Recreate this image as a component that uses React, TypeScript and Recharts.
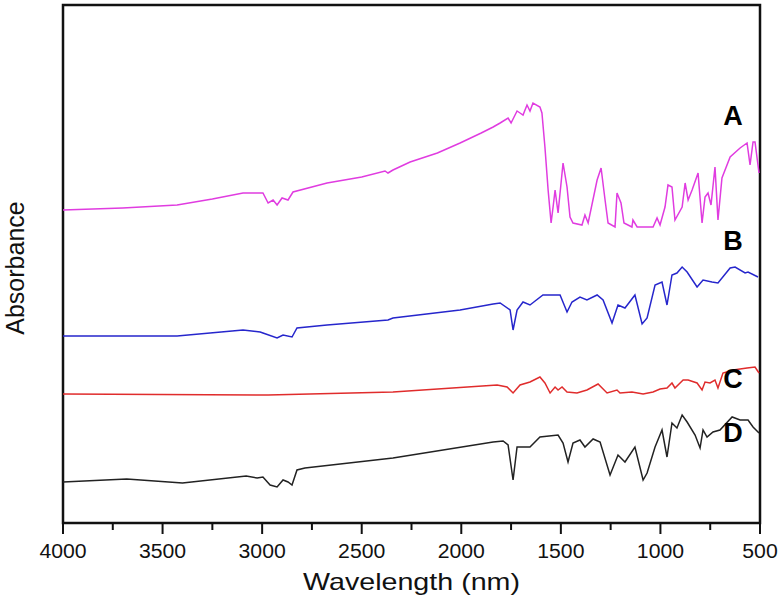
import { LineChart, Line, XAxis, YAxis, ReferenceDot, ReferenceArea } from 'recharts'

// wavenumber (x) and absorbance (arbitrary units)
const seriesA: [number, number][] = [
  [4000, 313], [3700, 315], [3427, 318], [3250, 324], [3096, 330], [2996, 330], [2970, 320],
  [2945, 323], [2925, 318], [2900, 325], [2870, 323], [2845, 331], [2674, 340],
  [2500, 346], [2383, 352], [2368, 350], [2343, 353], [2257, 361], [2120, 370],
  [2006, 380], [1900, 390], [1840, 396], [1805, 400], [1765, 405], [1750, 400],
  [1720, 412], [1705, 410], [1690, 408], [1670, 418], [1655, 412], [1640, 420],
  [1605, 416], [1595, 410], [1580, 376], [1564, 333], [1549, 300], [1539, 316],
  [1529, 333], [1514, 310], [1489, 360], [1469, 336], [1454, 306], [1439, 300],
  [1394, 298], [1379, 308], [1363, 300], [1318, 343], [1298, 355], [1278, 323],
  [1263, 300], [1228, 296], [1218, 330], [1198, 320], [1183, 300], [1143, 296],
  [1138, 303], [1117, 296], [1037, 296], [1017, 305], [1002, 298], [977, 316],
  [962, 338], [942, 336], [927, 303], [891, 316], [876, 340], [861, 323],
  [841, 333], [811, 350], [791, 300], [776, 326], [761, 330], [746, 318],
  [726, 356], [711, 303], [691, 345], [650, 366], [600, 375], [565, 380],
  [550, 358], [535, 381], [525, 381], [505, 350],
]

const seriesB: [number, number][] = [
  [4000, 187], [3427, 187], [3096, 193], [3010, 191], [2996, 190], [2925, 185],
  [2895, 188], [2850, 186], [2825, 195], [2674, 198], [2368, 203], [2343, 205],
  [2006, 213], [1840, 219], [1805, 220], [1755, 213], [1740, 193], [1720, 213],
  [1690, 221], [1655, 218], [1590, 228], [1504, 228], [1469, 211], [1444, 221],
  [1404, 226], [1369, 223], [1318, 228], [1288, 223], [1243, 200], [1213, 218],
  [1178, 215], [1128, 228], [1092, 199], [1067, 205], [1027, 238], [992, 241],
  [967, 218], [942, 248], [917, 250], [891, 256], [866, 251], [816, 236],
  [786, 243], [741, 241], [711, 240], [650, 255], [625, 256], [575, 250],
  [560, 251], [510, 246],
]

const seriesC: [number, number][] = [
  [4000, 129], [2970, 128], [2343, 131], [1820, 138], [1770, 136], [1740, 130],
  [1705, 138], [1655, 141], [1605, 146], [1580, 140], [1554, 130], [1529, 136],
  [1514, 133], [1494, 136], [1469, 131], [1419, 130], [1369, 133], [1313, 139],
  [1268, 130], [1218, 133], [1203, 130], [1143, 131], [1087, 129], [1037, 131],
  [1002, 134], [967, 135], [942, 140], [927, 135], [886, 143], [861, 143],
  [816, 140], [791, 133], [776, 141], [751, 140], [726, 143], [711, 135],
  [686, 150], [635, 153], [565, 155], [525, 156], [505, 150],
]

const seriesD: [number, number][] = [
  [4000, 41], [3680, 44], [3400, 40], [3080, 47], [3025, 45], [2996, 46],
  [2960, 38], [2925, 36], [2895, 43], [2870, 41], [2850, 38], [2825, 53],
  [2785, 55], [2343, 65], [1840, 81], [1790, 82], [1765, 78], [1740, 43],
  [1720, 76], [1655, 76], [1605, 86], [1514, 88], [1489, 80], [1464, 61],
  [1439, 80], [1404, 83], [1379, 76], [1338, 84], [1303, 81], [1253, 48],
  [1213, 68], [1178, 61], [1128, 76], [1087, 43], [1067, 50], [1027, 76],
  [992, 93], [967, 66], [942, 100], [917, 95], [891, 108], [866, 101],
  [826, 88], [801, 75], [786, 93], [766, 86], [736, 91], [701, 93],
  [640, 106], [600, 103], [560, 103], [535, 96], [505, 90],
]

const xTicks = [4000, 3750, 3500, 3250, 3000, 2750, 2500, 2250, 2000, 1750, 1500, 1250, 1000, 750, 500]

const labels = [
  { name: 'A', x: 635, y: 398 },
  { name: 'B', x: 635, y: 273 },
  { name: 'C', x: 635, y: 135 },
  { name: 'D', x: 635, y: 81 },
]

const toPoints = (s: [number, number][]) => s.map(([x, y]) => ({ x, y }))

const font = 'Arial, "Liberation Sans", sans-serif'

function XTick({ x, y, payload }: { x?: number; y?: number; payload?: { value: number } }) {
  const v = payload?.value ?? 0
  const major = v % 500 === 0
  const yy = y ?? 0
  const s = String(v)
  return (
    <g>
      <line x1={x} x2={x} y1={yy} y2={yy + (major ? 11 : 7)} stroke="#111" strokeWidth={2} />
      {major && (
        <text
          x={x}
          y={yy + 35}
          textAnchor="middle"
          fontSize={20}
          fontFamily={font}
          fill="#111"
          textLength={s.length * 11.8}
          lengthAdjust="spacingAndGlyphs"
        >
          {s}
        </text>
      )}
    </g>
  )
}

function LetterLabel({ viewBox, value }: { viewBox?: { x: number; y: number }; value?: string }) {
  if (!viewBox) return null
  return (
    <text x={viewBox.x} y={viewBox.y} textAnchor="middle" fontSize={27} fontWeight="bold" fontFamily={font} fill="#000">
      {value}
    </text>
  )
}

function XTitle({ viewBox }: { viewBox?: { x: number; y: number; width: number; height: number } }) {
  if (!viewBox) return null
  return (
    <text
      x={viewBox.x + viewBox.width / 2}
      y={590}
      textAnchor="middle"
      fontSize={24}
      fontFamily={font}
      fill="#111"
      textLength={217}
      lengthAdjust="spacingAndGlyphs"
    >
      Wavelength (nm)
    </text>
  )
}

function YTitle() {
  return (
    <text
      x={24}
      y={268}
      transform="rotate(-90 24 268)"
      textAnchor="middle"
      fontSize={25}
      fontFamily={font}
      fill="#111"
    >
      Absorbance
    </text>
  )
}

export default function App() {
  return (
    <div style={{ position: 'absolute', left: 0, top: 0, width: 782, height: 612, background: '#fff' }}>
      <LineChart width={782} height={612} margin={{ top: 5, right: 22, left: 0, bottom: 0 }}>
        <XAxis
          xAxisId="b"
          type="number"
          dataKey="x"
          domain={[500, 4000]}
          reversed
          ticks={xTicks}
          interval={0}
          tickSize={0}
          tickMargin={0}
          tick={<XTick />}
          height={89}
          axisLine={false}
          label={<XTitle />}
        />
        <YAxis
          yAxisId="l"
          type="number"
          domain={[0, 518]}
          width={63}
          tick={false}
          tickLine={false}
          axisLine={false}
          label={<YTitle />}
        />
        <ReferenceArea
          xAxisId="b"
          yAxisId="l"
          x1={4000}
          x2={500}
          y1={0}
          y2={518}
          fill="none"
          fillOpacity={0}
          stroke="#111"
          strokeWidth={2.5}
        />
        <Line xAxisId="b" yAxisId="l" data={toPoints(seriesA)} dataKey="y" type="linear" stroke="#e03ce0" strokeWidth={1.5} dot={false} isAnimationActive={false} />
        <Line xAxisId="b" yAxisId="l" data={toPoints(seriesB)} dataKey="y" type="linear" stroke="#2626cc" strokeWidth={1.5} dot={false} isAnimationActive={false} />
        <Line xAxisId="b" yAxisId="l" data={toPoints(seriesC)} dataKey="y" type="linear" stroke="#e02c2c" strokeWidth={1.5} dot={false} isAnimationActive={false} />
        <Line xAxisId="b" yAxisId="l" data={toPoints(seriesD)} dataKey="y" type="linear" stroke="#222" strokeWidth={1.5} dot={false} isAnimationActive={false} />
        {labels.map((l) => (
          <ReferenceDot
            key={l.name}
            xAxisId="b"
            yAxisId="l"
            x={l.x}
            y={l.y}
            r={0}
            stroke="none"
            label={<LetterLabel value={l.name} />}
          />
        ))}
      </LineChart>
    </div>
  )
}
